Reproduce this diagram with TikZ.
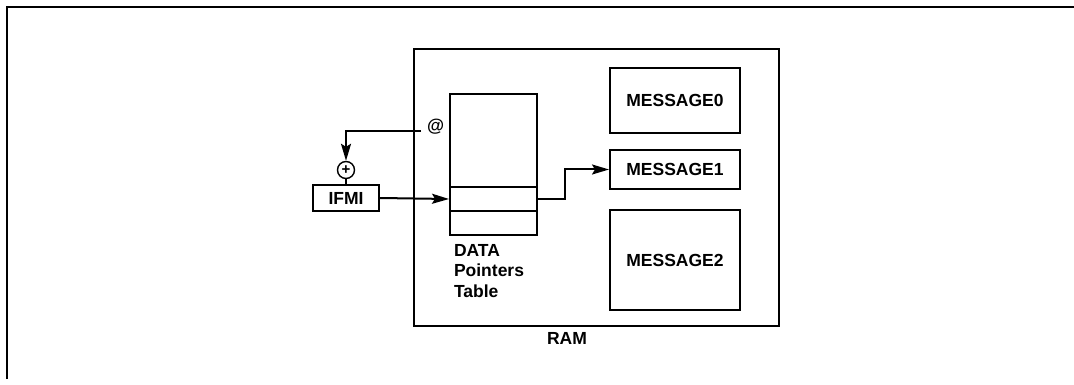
\documentclass[tikz,border=0pt]{standalone}
\usepackage{fontspec}
\setmainfont{Liberation Sans}
\usetikzlibrary{arrows.meta}

\begin{document}
\begin{tikzpicture}[x=1pt, y=-1pt, line width=2pt,
    every node/.style={font=\fontsize{17.5}{20.5}\selectfont\bfseries, inner sep=0pt},
    memblock/.style={draw, line width=2pt, anchor=north west, minimum width=130pt},
    arrow/.style={-{Stealth[length=17pt, width=10pt, inset=3pt]}}]

    \useasboundingbox (0,0) rectangle (1074,385);

    % outer frame
    \draw[line width=2.6pt] (7,379) -- (7,7) -- (1080,7);

    % RAM
    \node[draw, line width=2pt, anchor=north west, minimum width=365pt, minimum height=277pt] (ram) at (413,48) {};
    \node (ramlabel) at (567,338) {RAM};

    % pointers table
    \node[draw, line width=2pt, anchor=north west, minimum width=87pt, minimum height=141pt] (table) at (449,93) {};
    \node[draw, line width=2pt, anchor=north west, minimum width=87pt, minimum height=24pt] (row1) at (449,186) {};
    \node[draw, line width=2pt, anchor=north west, minimum width=87pt, minimum height=24pt] (row2) at (449,210) {};
    \node[anchor=north west, align=left] (tablelabel) at (453,243) {DATA\\Pointers\\Table};

    % messages
    \node[memblock, minimum height=65pt] (msg0) at (609,67) {};
    \node at (msg0) {MESSAGE0};
    \node[memblock, minimum height=39pt] (msg1) at (609,149) {};
    \node at (msg1) {MESSAGE1};
    \node[memblock, minimum height=100pt] (msg2) at (609,209) {};
    \node at (msg2) {MESSAGE2};

    % IFMI and adder
    \node[draw, line width=2pt, minimum width=66pt, minimum height=25pt] (ifmi) at (346,198) {IFMI};
    \node[circle, draw, line width=1.4pt, minimum size=17pt] (adder) at (346,170) {};
    \node[font=\fontsize{15}{15}\selectfont\bfseries] at (adder) {+};

    % @ input
    \coordinate (atpt) at (421,131);
    \node[anchor=west] (atlabel) at (426,127) {@};

    % connectors
    \draw[arrow] (atpt) -| (adder.north);
    \draw (adder.south) -- (ifmi.north);
    \draw[arrow] (ifmi.east) -- (row1.west);
    \draw[arrow] (row1.east) -- ++(27,0) |- (msg1.west);

\end{tikzpicture}
\end{document}
